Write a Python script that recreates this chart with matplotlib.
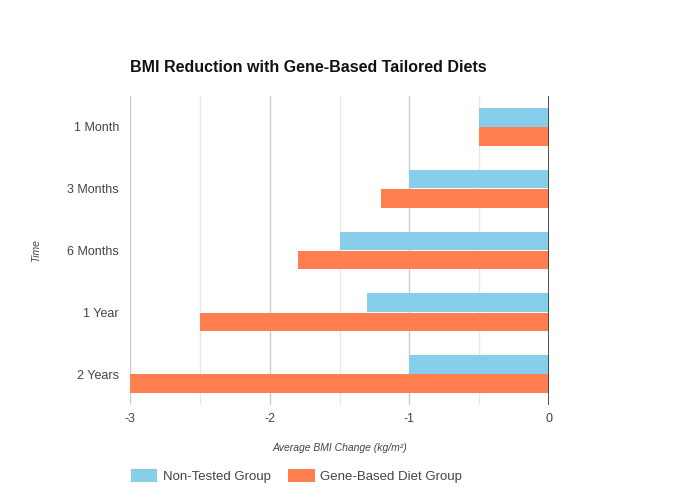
import numpy as np
import matplotlib.pyplot as plt
from matplotlib.patches import Patch

# Data
categories = ['1 Month', '3 Months', '6 Months', '1 Year', '2 Years']
non_tested = [-0.5, -1.0, -1.5, -1.3, -1.0]
gene_based = [-0.5, -1.2, -1.8, -2.5, -3.0]
series_names = ['Non-Tested Group', 'Gene-Based Diet Group']
x_ticks = [-3, -2, -1, 0]

COLORS = ['#87CEEB', '#FF7F50']
FONT = 'Liberation Sans'

plt.rcParams['font.family'] = [FONT, 'DejaVu Sans']

fig = plt.figure(figsize=(6.8, 5.0), dpi=100)
ax = fig.add_axes([130 / 680, 1 - 405 / 500, 419 / 680, 309 / 500])

y = np.arange(len(categories))
h = 0.3
ax.barh(y - h / 2 - 0.005, non_tested, height=h, color=COLORS[0], zorder=3)
ax.barh(y + h / 2 + 0.005, gene_based, height=h, color=COLORS[1], zorder=3)

ax.set_xlim(-3, 0)
ax.set_ylim(len(categories) - 0.5, -0.5)

# gridlines: integers darker, halves lighter
for v in np.arange(-3, 0.01, 0.5):
    if v == 0:
        ax.axvline(v, color='#333333', lw=1.2, zorder=4)
    elif float(v).is_integer():
        ax.axvline(v, color='#cccccc', lw=1, zorder=1)
    else:
        ax.axvline(v, color='#e8e8e8', lw=1, zorder=1)

ax.set_xticks(x_ticks)
ax.set_xticklabels([str(t) for t in x_ticks])
ax.set_yticks(y)
ax.set_yticklabels(categories)
ax.tick_params(axis='both', length=0, labelsize=9, labelcolor='#444444')
ax.tick_params(axis='x', pad=6)
ax.tick_params(axis='y', pad=8)
for s in ax.spines.values():
    s.set_visible(False)

ax.set_xlabel('Average BMI Change (kg/m²)', fontsize=7.5, style='italic',
              color='#444444')
ax.xaxis.set_label_coords(0.5, -0.122)
ax.set_ylabel('Time', fontsize=7.5, style='italic', color='#444444')
ax.yaxis.set_label_coords(-0.212, 0.5)

fig.text(130 / 680, 1 - 67 / 500, 'BMI Reduction with Gene-Based Tailored Diets',
         fontsize=11.5, fontweight='bold', color='#111111', va='center', ha='left')

handles = [Patch(facecolor=c, edgecolor='none') for c in COLORS]
fig.legend(handles, series_names, loc='center left',
           bbox_to_anchor=(119 / 680, 1 - 476 / 500), ncol=2, frameon=False,
           fontsize=9.5, handlelength=2.0, handleheight=1.1, columnspacing=1.35,
           handletextpad=0.4, labelcolor='#444444')

fig.savefig('out.png', dpi=100, facecolor='white')
